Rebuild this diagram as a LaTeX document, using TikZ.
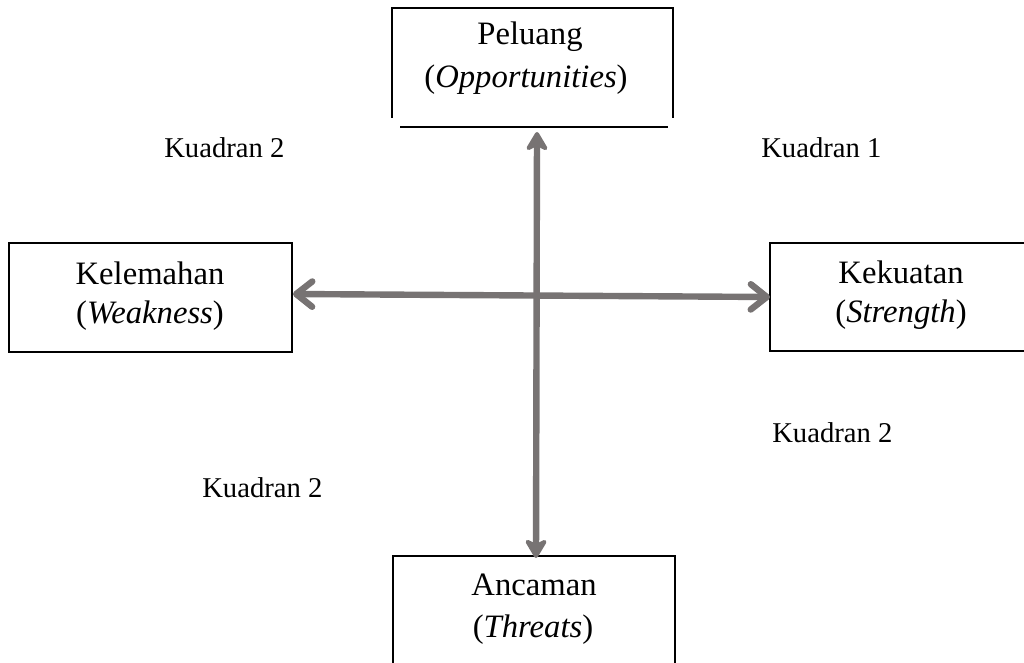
\documentclass[tikz,border=0pt]{standalone}
\usepackage{fontspec}
\setmainfont{Liberation Serif}
\usetikzlibrary{arrows.meta}
\definecolor{arrowgray}{RGB}{119,115,115}
\begin{document}
\begin{tikzpicture}[x=0.75pt,y=-0.75pt,
  boxline/.style={draw=black,line width=1.3pt},
  boxtext/.style={font=\fontsize{24.5}{30}\selectfont,anchor=base,inner sep=0pt},
  quadtext/.style={font=\fontsize{21.5}{26}\selectfont,anchor=base west,inner sep=0pt},
  haxis/.style={draw=arrowgray,line width=4.8pt,
    {Straight Barb[length=12pt,width=19pt,round]}-{Straight Barb[length=12pt,width=19pt,round]}},
  vaxis/.style={draw=arrowgray,line width=4.8pt,
    {Stealth[length=17pt,width=20pt,inset=5pt,round]}-{Stealth[length=17pt,width=20pt,inset=5pt,round]}}
]
\useasboundingbox (0,0) rectangle (1024,663);
% boxes
\draw[boxline] (392,118) -- (392,8) -- (673,8) -- (673,118);
\draw[boxline] (400,127) -- (668,127);
\draw[boxline] (9,243) rectangle (292,352);
\draw[boxline] (1030,243) -- (770,243) -- (770,351) -- (1030,351);
\draw[boxline] (393,670) -- (393,556) -- (675,556) -- (675,670);
% box texts
\node[boxtext] (peluang) at (530,45) {Peluang};
\node[boxtext] (opp) at (526,88) {(\textit{Opportunities})};
\node[boxtext] (kelemahan) at (150,284) {Kelemahan};
\node[boxtext] (weak) at (150,323) {(\textit{Weakness})};
\node[boxtext] (kekuatan) at (901,283) {Kekuatan};
\node[boxtext] (strength) at (901,322) {(\textit{Strength})};
\node[boxtext] (ancaman) at (534,595) {Ancaman};
\node[boxtext] (threats) at (533,637) {(\textit{Threats})};
% quadrant labels
\node[quadtext] (q2a) at (164,158) {Kuadran 2};
\node[quadtext] (q1) at (761,158) {Kuadran 1};
\node[quadtext] (q2b) at (772,442) {Kuadran 2};
\node[quadtext] (q2c) at (202,497) {Kuadran 2};
% axis tips
\coordinate (wtip) at (293,294);
\coordinate (stip) at (770,297);
\coordinate (otip) at (537,132);
\coordinate (ttip) at (536,558);
\draw[haxis] (wtip) -- (stip);
\draw[vaxis] (otip) -- (ttip);
\end{tikzpicture}
\end{document}
